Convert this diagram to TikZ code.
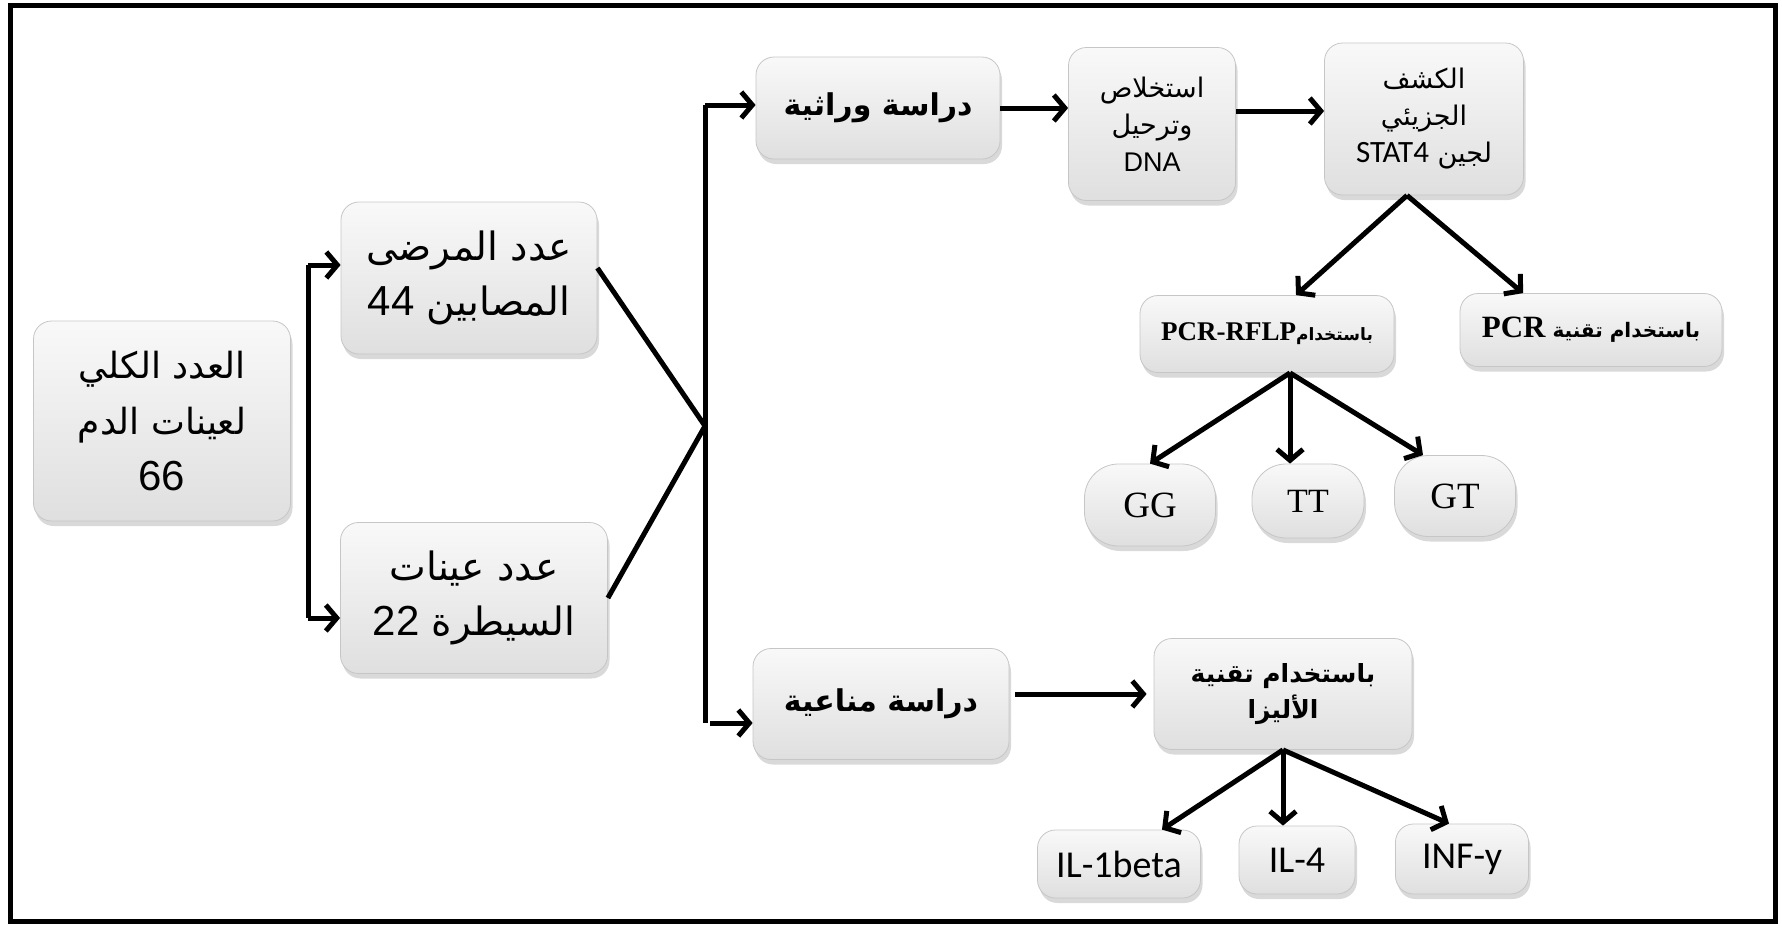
\documentclass[tikz,border=0pt]{standalone}
\usepackage{fontspec}
\setmainfont{Liberation Serif}
\newfontfamily\arabicfont[Script=Arabic]{DejaVu Sans}
\newfontfamily\arialfont{Liberation Sans}
\newfontfamily\calfont{Carlito}
\TeXXeTstate=1
\usetikzlibrary{arrows.meta,shadows}
\newcommand\artext[1]{{\arabicfont\beginR #1\endR}}
\newcommand\ltrtext[1]{\beginL{#1}\endL}

\begin{document}
\begin{tikzpicture}[x=1pt, y=-1pt,
  box/.style={rounded corners=18pt, top color=gray!5, bottom color=gray!25,
    draw=gray!45, line width=0.8pt, align=center, inner sep=0pt,
    drop shadow={opacity=0.3, shadow xshift=2pt, shadow yshift=-5pt}},
  pill/.style={box, rounded corners=34pt},
  bigtext/.style={font=\fontsize{39}{55}\selectfont},
  boldtext/.style={font=\fontsize{30}{38}\selectfont\bfseries},
  smalltext/.style={font=\fontsize{27}{37}\selectfont},
  bus/.style={line width=5pt},
  arr/.style={line width=5pt, -{Straight Barb[length=11pt,width=26pt]}}]

\useasboundingbox (0,0) rectangle (1782,927);
\draw[line width=5pt] (10,5) rectangle (1775,921);

\begin{scope}
% first level
\node[box, font=\fontsize{36}{56}\selectfont, minimum width=257pt, minimum height=200pt] (total) at (162,421)
  {\artext{العدد الكلي}\\ \artext{لعينات الدم}\\ {\arialfont\fontsize{42}{56}\selectfont 66}};
\node[box, bigtext, minimum width=256pt, minimum height=152pt] (patients) at (469,278)
  {\artext{عدد المرضى}\\ \artext{المصابين \ltrtext{\arialfont\fontsize{42}{55}\selectfont 44}}};
\node[box, bigtext, minimum width=267pt, minimum height=151pt] (control) at (474,598)
  {\artext{عدد عينات}\\ \artext{السيطرة \ltrtext{\arialfont\fontsize{42}{55}\selectfont 22}}};

\coordinate (lbtop) at (308,265);
\coordinate (lbbot) at (308,618);
\draw[bus] (lbtop) -- (lbbot);
\draw[arr] (lbtop) -- (lbtop -| patients.west);
\draw[arr] (lbbot) -- (lbbot -| control.west);

% second level
\node[box, boldtext, minimum width=244pt, minimum height=102pt] (genetic) at (878,108)
  {\artext{دراسة وراثية}};
\node[box, boldtext, minimum width=256pt, minimum height=111pt] (immune) at (881,704)
  {\artext{دراسة مناعية}};

\coordinate (join) at (705,426);
\coordinate (rbtop) at (705,105);
\coordinate (rbbot) at (705,723);
\draw[bus] (rbtop) -- (rbbot);
\draw[bus] ([yshift=10pt]patients.east) -- (join);
\draw[bus] (control.east) -- (join);
\draw[arr] (rbtop) -- (rbtop -| genetic.west);
\draw[arr, shorten <=5pt] (rbbot) -- (rbbot -| immune.west);

% genetic branch
\node[box, smalltext, minimum width=167pt, minimum height=153pt] (dna) at (1152,124)
  {\artext{استخلاص}\\ \artext{وترحيل}\\ {\arialfont DNA}};
\node[box, smalltext, minimum width=199pt, minimum height=152pt] (stat) at (1424,119)
  {\artext{الكشف}\\ \artext{الجزيئي}\\ \artext{لجين \ltrtext{\calfont\fontsize{31}{37}\selectfont STAT4}}};
\node[box, font=\fontsize{17}{25}\selectfont\bfseries, minimum width=254pt, minimum height=77pt] (rflp) at (1267,334)
  {\artext{باستخدام\ltrtext{\rmfamily\bfseries\fontsize{27}{25}\selectfont PCR-RFLP}}};
\node[box, font=\fontsize{20}{32}\selectfont\bfseries, minimum width=262pt, minimum height=73pt] (pcr) at (1591,330)
  {\artext{باستخدام تقنية \ltrtext{\rmfamily\bfseries\fontsize{31}{32}\selectfont PCR}}};
\node[pill, font=\fontsize{37}{40}\selectfont, minimum width=131pt, minimum height=82pt] (gg) at (1150,505) {GG};
\node[pill, font=\fontsize{34}{40}\selectfont, minimum width=112pt, minimum height=74pt] (tt) at (1308,501) {TT};
\node[pill, font=\fontsize{37}{40}\selectfont, minimum width=121pt, minimum height=81pt] (gt) at (1455,496) {GT};

\draw[arr] (genetic.east) -- (genetic.east -| dna.west);
\draw[arr] ([yshift=13pt]dna.east) -- ([yshift=13pt]dna.east -| stat.west);
\coordinate (sfork) at ([xshift=-17pt]stat.south);
\draw[arr] (sfork) -- ([xshift=29pt]rflp.north);
\draw[arr] (sfork) -- ([xshift=-68pt]pcr.north);
\coordinate (rfork) at ([xshift=23pt]rflp.south);
\draw[arr] (rfork) -- (gg.north);
\draw[arr] (rfork) -- (rfork |- tt.north);
\draw[arr] (rfork) -- ([xshift=-32pt]gt.north);

% immune branch
\node[box, font=\fontsize{25}{36}\selectfont\bfseries, minimum width=258pt, minimum height=111pt] (elisa) at (1283,694)
  {\artext{باستخدام تقنية}\\ \artext{الأليزا}};
\node[box, font=\fontsize{38}{40}\selectfont\calfont, minimum width=163pt, minimum height=68pt] (ilone) at (1119,864) {IL-1beta};
\node[box, font=\fontsize{38}{40}\selectfont\calfont, minimum width=116pt, minimum height=68pt] (ilfour) at (1297,860) {IL-4};
\node[box, font=\fontsize{38}{40}\selectfont\calfont, minimum width=133pt, minimum height=70pt] (infy) at (1462,859) {INF-y};

\draw[arr, shorten <=6pt, shorten >=7pt] (immune.east |- elisa.west) -- (elisa.west);
\draw[arr] (elisa.south) -- ([xshift=43pt]ilone.north);
\draw[arr] (elisa.south) -- (elisa.south |- ilfour.north);
\draw[arr] (elisa.south) -- ([xshift=-13pt]infy.north);
\end{scope}

\end{tikzpicture}
\end{document}
